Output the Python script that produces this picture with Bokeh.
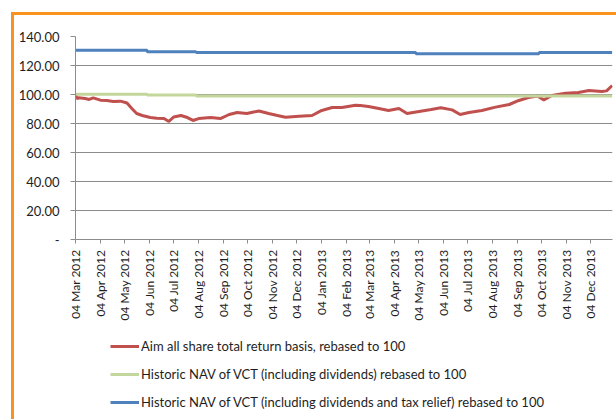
import pandas as pd
from bokeh.plotting import figure
from bokeh.layouts import column
from bokeh.models import (Range1d, FixedTicker, DatetimeTickFormatter, NumeralTickFormatter,
                          Legend, LegendItem)
from bokeh.embed import file_html
from bokeh.resources import INLINE
import math

# ---------------- data ----------------
aim_dates = ["2012-03-04", "2012-03-06", "2012-03-08", "2012-03-16", "2012-03-21", "2012-03-26",
             "2012-04-04", "2012-04-12", "2012-04-20", "2012-04-29", "2012-05-07", "2012-05-13",
             "2012-05-19", "2012-05-26", "2012-06-05", "2012-06-13", "2012-06-22", "2012-06-28",
             "2012-07-04", "2012-07-13", "2012-07-21", "2012-07-28", "2012-08-04", "2012-08-19",
             "2012-08-31", "2012-09-11", "2012-09-21", "2012-10-03", "2012-10-10", "2012-10-18",
             "2012-10-30", "2012-11-10", "2012-11-20", "2012-12-07", "2012-12-23", "2013-01-04",
             "2013-01-17", "2013-01-29", "2013-02-15", "2013-02-21", "2013-03-03", "2013-03-16",
             "2013-03-28", "2013-04-10", "2013-04-20", "2013-05-05", "2013-05-20", "2013-06-01",
             "2013-06-15", "2013-06-25", "2013-07-06", "2013-07-22", "2013-08-08", "2013-08-25",
             "2013-09-06", "2013-09-18", "2013-09-29", "2013-10-07", "2013-10-17", "2013-11-03",
             "2013-11-19", "2013-12-02", "2013-12-18", "2013-12-24", "2013-12-31"]
aim_values = [100.5, 97.0, 97.8, 97.2, 96.6, 97.7,
              96.1, 95.9, 95.2, 95.4, 94.1, 90.3,
              86.9, 85.5, 84.1, 83.7, 83.4, 81.4,
              84.5, 85.5, 84.1, 82.1, 83.4, 84.1,
              83.4, 86.2, 87.6, 86.9, 87.8, 88.6,
              86.9, 85.5, 84.3, 85.0, 85.5, 89.0,
              91.0, 91.0, 92.6, 92.4, 91.7, 90.3,
              89.0, 90.3, 86.9, 88.3, 89.6, 90.8,
              89.4, 86.2, 87.6, 89.0, 91.3, 93.1,
              95.9, 97.9, 99.0, 96.3, 99.3, 100.9,
              101.4, 102.8, 102.1, 102.5, 106.2]

nav_dates = ["2012-03-04", "2012-06-01", "2012-08-01", "2013-12-31"]
nav_values = [100.1, 99.6, 99.0, 99.0]

nav_tax_dates = ["2012-03-04", "2012-06-01", "2012-08-01", "2013-05-01", "2013-10-01", "2013-12-31"]
nav_tax_values = [130.6, 129.5, 128.9, 128.1, 129.0, 129.0]

tick_dates = ["2012-03-04", "2012-04-04", "2012-05-04", "2012-06-04", "2012-07-04", "2012-08-04",
              "2012-09-04", "2012-10-04", "2012-11-04", "2012-12-04", "2013-01-04", "2013-02-04",
              "2013-03-04", "2013-04-04", "2013-05-04", "2013-06-04", "2013-07-04", "2013-08-04",
              "2013-09-04", "2013-10-04", "2013-11-04", "2013-12-04"]
y_ticks = [0, 20, 40, 60, 80, 100, 120, 140]

labels = ["Aim all share total return basis, rebased to 100",
          "Historic NAV of VCT (including dividends) rebased to 100",
          "Historic NAV of VCT (including dividends and tax relief) rebased to 100"]
colors = ["#C0504D", "#C3D69B", "#4F81BD"]

FONT = "Lato"
TXT = "#1e1e1e"
GRID = "#8c8c8c"
ORANGE = "#F7931E"

# ---------------- main chart ----------------
x_start = pd.Timestamp("2012-03-04")
x_end = pd.Timestamp("2013-12-31 08:00")

p = figure(width=616, height=325, x_axis_type="datetime",
           x_range=Range1d(x_start, x_end), y_range=Range1d(0, 140),
           output_backend="svg", toolbar_location=None,
           min_border_left=75, min_border_right=4, min_border_top=36, min_border_bottom=86)
p.styles = {"box-shadow": f"inset 11px 12px 0 0 white, inset 14px 15px 0 0 {ORANGE}"}
p.background_fill_color = "white"
p.border_fill_color = None
p.outline_line_color = None

r_aim = p.line(pd.to_datetime(aim_dates), aim_values, line_color=colors[0], line_width=3)
r_nav = p.step(pd.to_datetime(nav_dates), nav_values, mode="after", line_color=colors[1], line_width=3)
r_tax = p.step(pd.to_datetime(nav_tax_dates), nav_tax_values, mode="after", line_color=colors[2], line_width=3)

xa = p.xaxis[0]
xa.ticker = FixedTicker(ticks=[pd.Timestamp(d).value / 1e6 for d in tick_dates])
fmt = "%d %b %Y"
xa.formatter = DatetimeTickFormatter(microseconds=fmt, milliseconds=fmt, seconds=fmt, minsec=fmt,
                                     minutes=fmt, hourmin=fmt, hours=fmt, days=fmt, months=fmt, years=fmt)
xa.major_label_orientation = math.pi / 2
xa.major_tick_out = 4
xa.major_tick_in = 0
xa.minor_tick_out = 0
xa.minor_tick_in = 0
xa.major_label_standoff = 6
xa.axis_line_color = GRID
xa.major_tick_line_color = GRID
xa.major_label_text_font = FONT
xa.major_label_text_font_size = "12px"
xa.major_label_text_color = TXT

ya = p.yaxis[0]
ya.ticker = FixedTicker(ticks=y_ticks)
ya.formatter = NumeralTickFormatter(format="0.00")
ya.major_label_overrides = {0: "-"}
ya.major_tick_out = 5
ya.major_tick_in = 0
ya.minor_tick_out = 0
ya.minor_tick_in = 0
ya.major_label_standoff = 11
ya.axis_line_color = GRID
ya.major_tick_line_color = GRID
ya.major_label_text_font = FONT
ya.major_label_text_font_size = "13px"
ya.major_label_text_color = TXT

p.xgrid.grid_line_color = None
p.ygrid.ticker = FixedTicker(ticks=y_ticks)
p.ygrid.grid_line_color = GRID
p.ygrid.grid_line_width = 1

# ---------------- legend panel ----------------
q = figure(width=616, height=94, x_axis_location=None, y_axis_location=None,
           output_backend="svg", toolbar_location=None,
           min_border=0, x_range=Range1d(0, 1), y_range=Range1d(0, 1))
q.styles = {"box-shadow": f"inset 11px 0 0 0 white, inset 14px 0 0 0 {ORANGE}"}
q.background_fill_color = None
q.border_fill_color = None
q.outline_line_color = None
q.grid.visible = False
l_aim = q.line([0, 1], [5, 5], line_color=colors[0], line_width=3)
l_nav = q.line([0, 1], [5, 5], line_color=colors[1], line_width=3)
l_tax = q.line([0, 1], [5, 5], line_color=colors[2], line_width=3)

legend = Legend(items=[LegendItem(label=labels[0], renderers=[l_aim]),
                       LegendItem(label=labels[1], renderers=[l_nav]),
                       LegendItem(label=labels[2], renderers=[l_tax])],
                location=(35, 7), orientation="vertical",
                glyph_width=29, glyph_height=20, label_height=20, label_standoff=2,
                spacing=8, padding=0, margin=0,
                background_fill_alpha=0, border_line_color=None,
                label_text_font=FONT, label_text_font_size="13px", label_text_color=TXT)
q.add_layout(legend, "center")

layout = column(p, q, spacing=0)
open("out.html", "w").write(file_html(layout, INLINE))
